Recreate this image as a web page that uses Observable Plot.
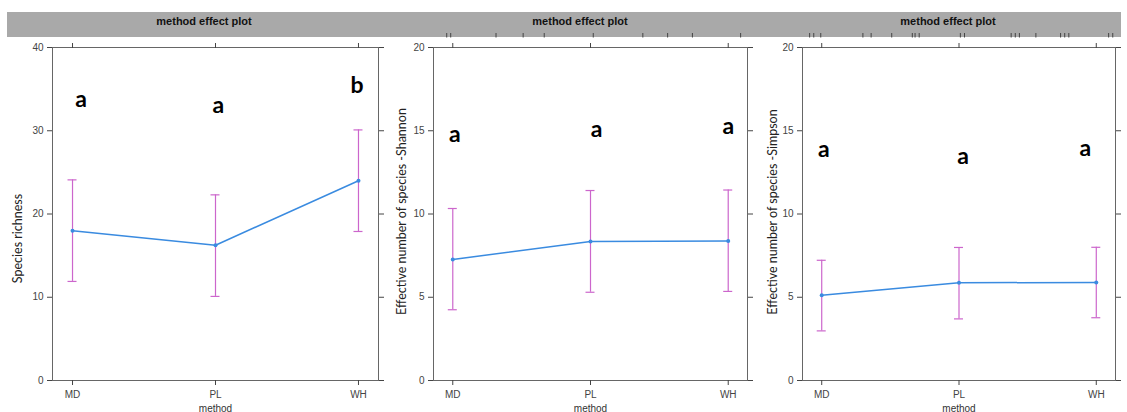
<!DOCTYPE html>
<html><head><meta charset="utf-8">
<script src="https://cdn.jsdelivr.net/npm/d3@7"></script>
<script src="https://cdn.jsdelivr.net/npm/@observablehq/plot@0.6"></script>
<style>
body{margin:0;background:#fff;}
#wrap{position:relative;width:1127px;height:412px;overflow:hidden;font-family:"Liberation Sans",Arial,sans-serif;}
#strip{position:absolute;left:7px;top:12px;width:1114px;height:25px;background:#a9a9a9;}
.title{position:absolute;top:9px;height:25px;line-height:25px;font-weight:bold;font-size:11px;color:#111;transform:translateX(-50%);white-space:nowrap;}
.panel{position:absolute;top:0;}
</style></head><body>
<div id="wrap"><div id="strip"></div></div>
<script>
// ---- data ----
const methods = ["MD", "PL", "WH"];
const stripTitle = "method effect plot";
const xLabel = "method";

const richnessFit   = [18.0, 16.25, 24.0];
const richnessLower = [11.9, 10.1, 17.9];
const richnessUpper = [24.1, 22.3, 30.1];
const richnessTicks = [0, 10, 20, 30, 40];
const richnessLetters = ["a", "a", "b"];
const richnessLetterX = [1.06, 2.02, 2.99];
const richnessLetterY = [32.8, 32.1, 34.5];

const shannonFit   = [7.27, 8.35, 8.38];
const shannonLower = [4.25, 5.30, 5.35];
const shannonUpper = [10.33, 11.41, 11.44];
const shannonTicks = [0, 5, 10, 15, 20];
const shannonLetters = ["a", "a", "a"];
const shannonLetterX = [1.015, 2.044, 3.0];
const shannonLetterY = [14.3, 14.65, 14.83];
const shannonRug = [0.956, 0.985, 1.314, 1.511, 1.664, 2.02, 2.38, 2.56, 2.74, 3.09];

const simpsonFit   = [5.12, 5.87, 5.89];
const simpsonLower = [2.98, 3.70, 3.77];
const simpsonUpper = [7.22, 7.99, 8.0];
const simpsonTicks = [0, 5, 10, 15, 20];
const simpsonLetters = ["a", "a", "a"];
const simpsonLetterX = [1.015, 2.03, 2.92];
const simpsonLetterY = [13.45, 13.03, 13.5];
const simpsonRug = [0.912, 0.942, 0.993, 1.30, 1.36, 1.51, 1.66, 1.68, 1.71, 2.01, 2.04, 2.38, 2.41, 2.44, 2.56, 2.74, 2.77, 2.80, 3.09, 3.12];

const yLabels = ["Species richness", "Effective number of species -Shannon", "Effective number of species -Simpson"];

// ---- drawing ----
const lineColor = "#3a8be0";
const ciColor = "#cc66cc";
const wrap = document.getElementById("wrap");

function panel(o) {
  const n = methods.length;
  const pad = 0.07 * (n - 1);
  const rows = methods.map((m, i) => ({m, x: i + 1, fit: o.fit[i], lo: o.lower[i], hi: o.upper[i]}));
  const lab = o.letters.map((t, i) => ({t, x: o.letterX[i], y: o.letterY[i]}));
  const xTicks = methods.map((m, i) => i + 1);
  const marks = [
    Plot.frame({stroke: "#666"}),
    Plot.axisY({anchor: "left", ticks: o.ticks, tickSize: 5, tickPadding: 4, label: null, fontSize: 10}),
    Plot.axisY({anchor: "right", ticks: o.ticks, tickSize: 5, tickFormat: () => "", label: null}),
    Plot.axisX({anchor: "top", ticks: xTicks, tickSize: 5, tickFormat: () => "", label: null}),
    Plot.axisX({anchor: "bottom", ticks: xTicks, tickSize: 5, tickPadding: 5, tickFormat: d => methods[d - 1], label: null, fontSize: 10}),
    Plot.ruleX(rows, {x: "x", y1: "lo", y2: "hi", stroke: ciColor, strokeWidth: 1.2}),
    Plot.ruleY(rows, {y: "lo", x1: "x", x2: "x", insetLeft: -4.5, insetRight: -4.5, stroke: ciColor, strokeWidth: 1.2}),
    Plot.ruleY(rows, {y: "hi", x1: "x", x2: "x", insetLeft: -4.5, insetRight: -4.5, stroke: ciColor, strokeWidth: 1.2}),
    Plot.line(rows, {x: "x", y: "fit", stroke: lineColor, strokeWidth: 1.5}),
    Plot.dot(rows, {x: "x", y: "fit", r: 2, fill: lineColor}),
    Plot.text(lab, {x: "x", y: "y", text: "t", fontFamily: "Lato", fontWeight: "bold", fontSize: 23, fill: "#000", lineAnchor: "bottom", textAnchor: "middle"}),
    Plot.text([o.yLabel], {text: d => d, frameAnchor: "left", textAnchor: "middle", lineAnchor: "middle", rotate: -90, dx: o.labelDx, dy: o.labelDy, fontFamily: "Lato", fontSize: 12.5, fill: "#222"}),
    Plot.text([xLabel], {text: d => d, frameAnchor: "bottom", textAnchor: "middle", dy: 31, lineAnchor: "bottom", fontSize: 10, fill: "#333"})
  ];
  if (o.rug) marks.push(Plot.ruleX(o.rug, {x: d => d, insetTop: -14, insetBottom: 342.5, stroke: "#444", strokeWidth: 1}));
  const svg = Plot.plot({
    width: o.width, height: 412,
    marginLeft: o.marginLeft, marginRight: o.marginRight, marginTop: 47, marginBottom: 32,
    x: {domain: [1 - pad, n + pad]},
    y: {domain: [0, o.ticks[o.ticks.length - 1]]},
    style: {background: "transparent", color: "#444", fontFamily: "Liberation Sans, Arial, sans-serif", fontSize: "10px"},
    marks
  });
  svg.classList.add("panel");
  svg.style.left = o.left + "px";
  wrap.appendChild(svg);
  const t = document.createElement("div");
  t.className = "title";
  t.textContent = stripTitle;
  t.style.left = o.titleX + "px";
  wrap.appendChild(t);
}

panel({fit: richnessFit, lower: richnessLower, upper: richnessUpper, ticks: richnessTicks,
  letters: richnessLetters, letterX: richnessLetterX, letterY: richnessLetterY, rug: null,
  yLabel: yLabels[0], labelDx: -35, labelDy: 24.5,
  left: 0, width: 385, marginLeft: 52, marginRight: 7, titleX: 204});
panel({fit: shannonFit, lower: shannonLower, upper: shannonUpper, ticks: shannonTicks,
  letters: shannonLetters, letterX: shannonLetterX, letterY: shannonLetterY, rug: shannonRug,
  yLabel: yLabels[1], labelDx: -32, labelDy: -2.5,
  left: 385, width: 370, marginLeft: 48, marginRight: 8, titleX: 580});
panel({fit: simpsonFit, lower: simpsonLower, upper: simpsonUpper, ticks: simpsonTicks,
  letters: simpsonLetters, letterX: simpsonLetterX, letterY: simpsonLetterY, rug: simpsonRug,
  yLabel: yLabels[2], labelDx: -30, labelDy: -2,
  left: 755, width: 372, marginLeft: 47, marginRight: 12, titleX: 948});
</script>
</body></html>
